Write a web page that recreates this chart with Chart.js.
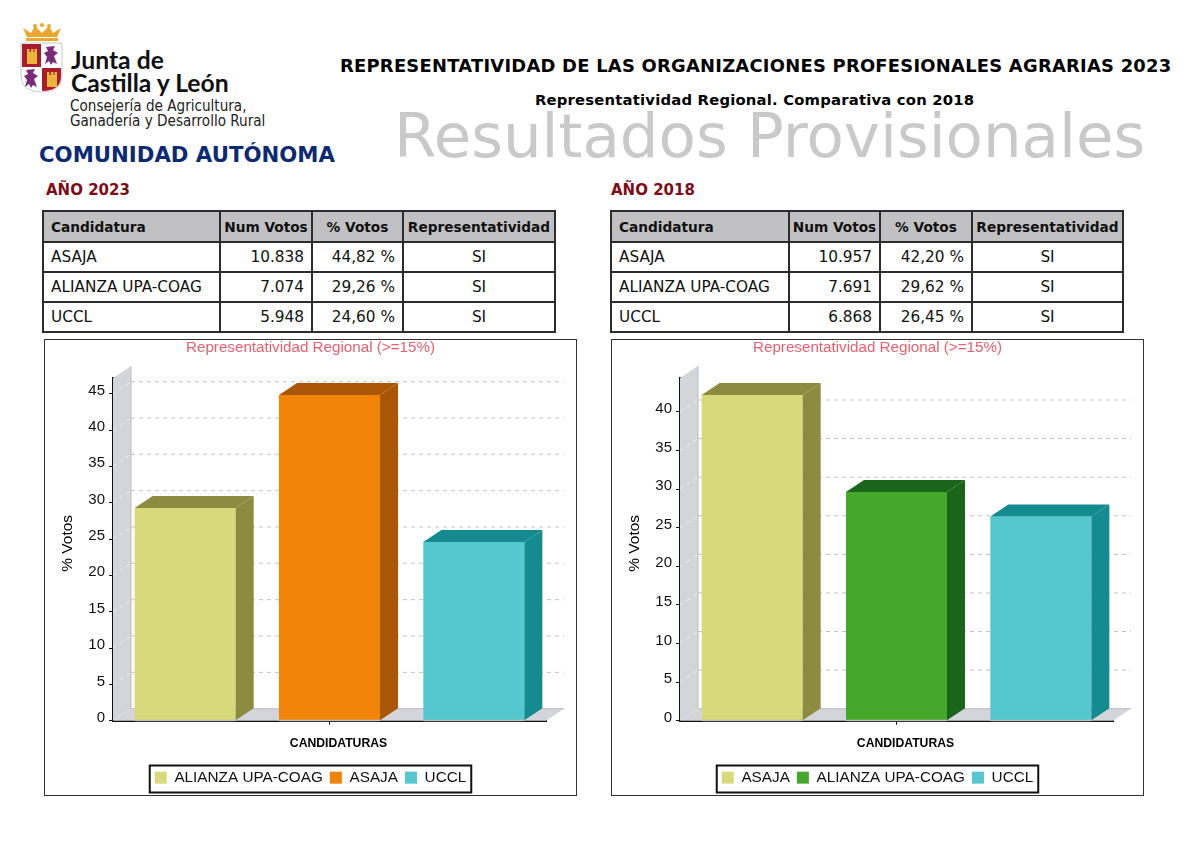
<!DOCTYPE html>
<html lang="es">
<head>
<meta charset="utf-8">
<title>Representatividad OPA 2023</title>
<script src="https://cdn.jsdelivr.net/npm/chart.js@4/dist/chart.umd.min.js"></script>
<style>
  html, body { margin: 0; padding: 0; background: #fff; }
  body { width: 1200px; height: 850px; position: relative; overflow: hidden; font-family: "DejaVu Sans", sans-serif; color: #111; }
  .txt { position: absolute; white-space: nowrap; line-height: 1; }
  #mainTitle { left: 340px; top: 57px; font-size: 17.9px; font-weight: bold; letter-spacing: 0.25px; color: #000; }
  #subTitle { left: 535px; top: 93px; font-size: 14.8px; font-weight: bold; letter-spacing: 0.2px; color: #000; }
  #watermark { left: 394px; top: 105px; font-size: 61px; color: #c9c9c9; }
  #comunidad { left: 39px; top: 144px; font-size: 21.25px; font-weight: bold; color: #0b2a73; }
  .year { top: 183px; font-size: 15px; font-weight: bold; color: #7d0c16; }
  #junta { left: 71px; top: 48px; font-family: Lato, sans-serif; font-weight: 700; font-size: 24.7px; line-height: 23px; color: #111; }
  #conse { left: 70px; top: 99px; font-family: "DejaVu Sans Condensed", "DejaVu Sans", sans-serif; font-size: 15.1px; line-height: 15px; color: #222; }
  table { position: absolute; top: 210px; border-collapse: collapse; table-layout: fixed; font-size: 15.3px; }
  th, td { border: 2px solid #2c2c2c; padding: 0 7px; height: 28px; white-space: nowrap; overflow: hidden; }
  th { background: #c1c1c3; font-size: 13.7px; text-align: center; padding: 0; height: 29px; }
  th:first-child { text-align: left; padding-left: 7px; }
  td.n { text-align: right; padding-right: 7px; }
  td.c { text-align: center; }
  .frame { position: absolute; top: 339px; width: 533px; height: 457px; outline: 1.5px solid #333; outline-offset: -1.5px; }
  .frame canvas { display: block; }
</style>
</head>
<body>
<svg style="position:absolute;left:18px;top:20px" width="48" height="76" viewBox="0 0 48 76">
  <path d="M5 8 L9 17 H39 L43 8 L35 13 L31 6 L24 13 L17 6 L13 13 Z" fill="#e9a72e"/>
  <circle cx="17" cy="6" r="2" fill="#e9a72e"/><circle cx="24" cy="5" r="2" fill="#e9a72e"/><circle cx="31" cy="6" r="2" fill="#e9a72e"/>
  <rect x="8" y="18" width="32" height="3" fill="#e9a72e"/>
  <path d="M3 23 H44 V56 Q44 72 24 72 Q3 72 3 56 Z" fill="#fff" stroke="#bbb" stroke-width="0.8"/>
  <path d="M4 24 H23 V47 H4 Z" fill="#a81c2e"/>
  <path d="M24 48 H43 V56 Q43 71 24 71 Z" fill="#a81c2e"/>
  <rect x="9" y="32" width="10" height="12" fill="#e9b53a"/><rect x="9" y="29" width="2.5" height="4" fill="#e9b53a"/><rect x="13" y="29" width="2.5" height="4" fill="#e9b53a"/><rect x="16.5" y="29" width="2.5" height="4" fill="#e9b53a"/>
  <rect x="29" y="55" width="10" height="12" fill="#e9b53a"/><rect x="29" y="52" width="2.5" height="4" fill="#e9b53a"/><rect x="33" y="52" width="2.5" height="4" fill="#e9b53a"/><rect x="36.5" y="52" width="2.5" height="4" fill="#e9b53a"/>
  <path d="M28 27 L37 26 L35 30 L40 33 L36 36 L39 44 L35 42 L33 45 L31 41 L27 44 L29 37 L26 33 L30 31 Z" fill="#7a2a78"/>
  <path d="M8 50 L17 49 L15 53 L20 56 L16 59 L19 67 L15 65 L13 68 L11 64 L7 67 L9 60 L6 56 L10 54 Z" fill="#7a2a78"/>
</svg>
<div class="txt" id="junta">Junta de<br>Castilla y León</div>
<div class="txt" id="conse">Consejería de Agricultura,<br>Ganadería y Desarrollo Rural</div>
<div class="txt" id="watermark">Resultados Provisionales</div>
<div class="txt" id="mainTitle">REPRESENTATIVIDAD DE LAS ORGANIZACIONES PROFESIONALES AGRARIAS 2023</div>
<div class="txt" id="subTitle">Representatividad Regional. Comparativa con 2018</div>
<div class="txt" id="comunidad">COMUNIDAD AUTÓNOMA</div>
<div class="txt year" style="left:46px">AÑO 2023</div>
<div class="txt year" style="left:611px">AÑO 2018</div>
<table id="table2023" style="left:42px;width:512px"></table>
<table id="table2018" style="left:610px;width:512px"></table>
<div class="frame" style="left:44px"><canvas id="chart2023" width="533" height="457"></canvas></div>
<div class="frame" style="left:611px"><canvas id="chart2018" width="533" height="457"></canvas></div>

<script>
// table values
const tableHead = ["Candidatura", "Num Votos", "% Votos", "Representatividad"];
const tableNames = ["ASAJA", "ALIANZA UPA-COAG", "UCCL"];
const votos2023 = ["10.838", "7.074", "5.948"];
const pct2023 = ["44,82 %", "29,26 %", "24,60 %"];
const votos2018 = ["10.957", "7.691", "6.868"];
const pct2018 = ["42,20 %", "29,62 %", "26,45 %"];
const repres = ["SI", "SI", "SI"];

// chart values
const names2023 = ["ALIANZA UPA-COAG", "ASAJA", "UCCL"];
const values2023 = [29.26, 44.82, 24.60];
const colors2023 = ["#d7d97a", "#f18308", "#54c7cf"];
const sides2023 = ["#8c8c40", "#a95706", "#138b8f"];
const names2018 = ["ASAJA", "ALIANZA UPA-COAG", "UCCL"];
const values2018 = [42.20, 29.62, 26.45];
const colors2018 = ["#d7d97a", "#46a82a", "#54c7cf"];
const sides2018 = ["#8c8c40", "#1a651a", "#138b8f"];

const chartTitle = "Representatividad Regional (>=15%)";
const yTitle = "% Votos";
const xTitle = "CANDIDATURAS";
const sansFont = '"Liberation Sans", Arial, sans-serif';

// fake depth of the 3d look
const depthX = 18;
const depthY = 12;

function fillTable(id, widths, votos, pct) {
    const t = document.getElementById(id);
    let html = "<colgroup>" + widths.map(w => `<col style="width:${w}px">`).join("") + "</colgroup>";
    html += "<tr>" + tableHead.map(h => `<th>${h}</th>`).join("") + "</tr>";
    tableNames.forEach((name, i) => {
        html += `<tr><td>${name}</td><td class="n">${votos[i]}</td><td class="n">${pct[i]}</td><td class="c">${repres[i]}</td></tr>`;
    });
    t.innerHTML = html;
}
fillTable("table2023", [177, 92, 91, 152], votos2023, pct2023);
fillTable("table2018", [178, 91, 92, 151], votos2018, pct2018);

function poly(ctx, pts, fill) {
    ctx.beginPath();
    pts.forEach((p, i) => i ? ctx.lineTo(p[0], p[1]) : ctx.moveTo(p[0], p[1]));
    ctx.closePath();
    ctx.fillStyle = fill;
    ctx.fill();
}

const fake3d = {
    id: "fake3d",
    // title and legend centred on the whole frame, not on the padded layout
    afterLayout(chart) {
        chart.titleBlock.left = 0;
        chart.titleBlock.right = chart.width;
        chart.legend.left = 0;
        chart.legend.right = chart.width;
        chart.legend.top = 424;
    },
    beforeDatasetsDraw(chart) {
        const { ctx, chartArea: a, scales } = chart;
        ctx.save();
        poly(ctx, [[a.left, a.top], [a.left + depthX, a.top - depthY], [a.left + depthX, a.bottom - depthY], [a.left, a.bottom]], "#d4d5da");
        poly(ctx, [[a.left, a.bottom], [a.left + depthX, a.bottom - depthY], [a.right + depthX, a.bottom - depthY], [a.right, a.bottom]], "#d4d5da");
        ctx.lineWidth = 1;
        ctx.strokeStyle = "#bcbcc0";
        ctx.beginPath();
        ctx.moveTo(a.left + depthX, a.top - depthY);
        ctx.lineTo(a.left + depthX, a.bottom - depthY);
        ctx.lineTo(a.right + depthX, a.bottom - depthY);
        ctx.stroke();
        ctx.setLineDash([4, 4]);
        scales.y.ticks.forEach(t => {
            if (t.value === 0) return;
            const y = scales.y.getPixelForValue(t.value);
            ctx.strokeStyle = "#c4c4c4";
            ctx.beginPath();
            ctx.moveTo(a.left + depthX, y - depthY);
            ctx.lineTo(a.right + depthX, y - depthY);
            ctx.stroke();
            ctx.strokeStyle = "#eeeeee";
            ctx.beginPath();
            ctx.moveTo(a.left, y);
            ctx.lineTo(a.left + depthX, y - depthY);
            ctx.stroke();
        });
        ctx.restore();
    },
    afterDatasetsDraw(chart, args, opts) {
        const { ctx } = chart;
        ctx.save();
        chart.data.datasets.forEach((ds, i) => {
            const bar = chart.getDatasetMeta(i).data[0];
            const l = bar.x - bar.width / 2, r = bar.x + bar.width / 2;
            poly(ctx, [[r, bar.y], [r + depthX, bar.y - depthY], [r + depthX, bar.base - depthY], [r, bar.base]], opts.sides[i]);
            poly(ctx, [[l, bar.y], [l + depthX, bar.y - depthY], [r + depthX, bar.y - depthY], [r, bar.y]], opts.sides[i]);
            ctx.fillStyle = "#bdbdbd";
            ctx.fillRect(l, bar.base - 0.5, r - l, 1.5);
        });
        ctx.restore();
    },
    afterDraw(chart) {
        const { ctx, chartArea: a, legend } = chart;
        ctx.save();
        // axis titles are centred on the plot including its depth
        ctx.fillStyle = "#000";
        ctx.textAlign = "center";
        ctx.textBaseline = "middle";
        ctx.font = "bold 12.2px " + sansFont;
        ctx.fillText(xTitle, (a.left + a.right + depthX) / 2, 405);
        ctx.translate(24, (a.top - depthY + a.bottom) / 2);
        ctx.rotate(-Math.PI / 2);
        ctx.font = "15.5px " + sansFont;
        ctx.fillText(yTitle, 0, 0);
        ctx.restore();
        // box round the legend
        const w = legend.lineWidths[0] - legend.options.labels.padding + 10;
        ctx.save();
        ctx.strokeStyle = "#111";
        ctx.lineWidth = 2;
        ctx.strokeRect((chart.width - w) / 2, 426.5, w, 27);
        ctx.restore();
    }
};

function makeChart(id, names, values, colors, sides, yMax) {
    new Chart(document.getElementById(id), {
        type: "bar",
        data: {
            labels: [""],
            datasets: names.map((name, i) => ({
                label: name,
                data: [values[i]],
                backgroundColor: colors[i],
                categoryPercentage: 1,
                barPercentage: 0.7
            }))
        },
        options: {
            responsive: false,
            animation: false,
            layout: { padding: { top: 0, right: 31, bottom: 3, left: 0 } },
            plugins: {
                tooltip: { enabled: false },
                fake3d: { sides },
                title: {
                    display: true,
                    text: chartTitle,
                    color: "#e9606f",
                    font: { family: sansFont, size: 15.2, weight: "normal" },
                    padding: { top: 0, bottom: 20.8 }
                },
                legend: {
                    position: "bottom",
                    onClick: null,
                    labels: {
                        boxWidth: 12,
                        boxHeight: 12,
                        padding: 7,
                        color: "#111",
                        font: { family: sansFont, size: 15.3 }
                    }
                }
            },
            scales: {
                x: {
                    afterFit(scale) { scale.height = 40; },
                    grid: { offset: false, drawOnChartArea: false, tickLength: 4, color: "#111" },
                    border: { color: "#111", width: 2 },
                    ticks: { display: true, padding: 0 }
                },
                y: {
                    min: 0,
                    max: yMax,
                    afterFit(scale) { scale.width = 69; },
                    grid: { drawOnChartArea: false, tickLength: 4, color: "#111" },
                    border: { color: "#111", width: 2 },
                    ticks: {
                        stepSize: 5,
                        includeBounds: false,
                        padding: 4,
                        labelOffset: -3,
                        color: "#111",
                        font: { family: sansFont, size: 15 }
                    }
                }
            }
        },
        plugins: [fake3d]
    });
}

makeChart("chart2023", names2023, values2023, colors2023, sides2023, 47.15);
makeChart("chart2018", names2018, values2018, colors2018, sides2018, 44.4);
</script>
</body>
</html>
